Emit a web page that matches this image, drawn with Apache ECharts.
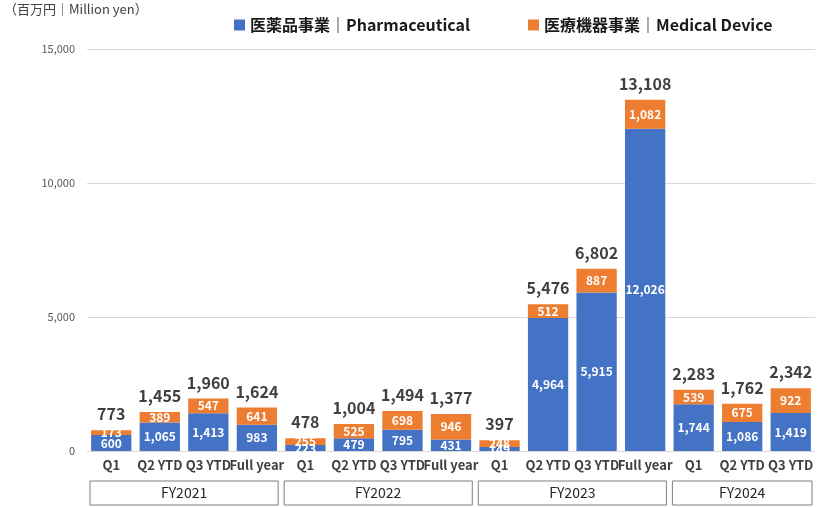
<!DOCTYPE html>
<html>
<head>
<meta charset="utf-8">
<script src="https://cdn.jsdelivr.net/npm/echarts@6/dist/echarts.min.js"></script>
<style>
  html, body { margin: 0; padding: 0; background: #fff; }
  #chart { width: 820px; height: 507px; }
</style>
</head>
<body>
<div id="chart"></div>
<script>
const categories = [
  'Q1', 'Q2 YTD', 'Q3 YTD', 'Full year',
  'Q1', 'Q2 YTD', 'Q3 YTD', 'Full year',
  'Q1', 'Q2 YTD', 'Q3 YTD', 'Full year',
  'Q1', 'Q2 YTD', 'Q3 YTD'
]
const pharma = [600, 1065, 1413, 983, 223, 479, 795, 431, 149, 4964, 5915, 12026, 1744, 1086, 1419]
const medical = [173, 389, 547, 641, 255, 525, 698, 946, 248, 512, 887, 1082, 539, 675, 922]
const totals = [773, 1455, 1960, 1624, 478, 1004, 1494, 1377, 397, 5476, 6802, 13108, 2283, 1762, 2342]
// 年度グループ: [名前, 開始index, 終了index]
const groups = [['FY2021', 0, 3], ['FY2022', 4, 7], ['FY2023', 8, 11], ['FY2024', 12, 14]]

const font = '"Noto Sans CJK JP", "Noto Sans", sans-serif'
const fmt = v => v.toLocaleString('en-US')

const chart = echarts.init(document.getElementById('chart'))
const option = {
  animation: false,
  textStyle: { fontFamily: font },
  legend: {
    data: ['医薬品事業｜Pharmaceutical', '医療機器事業｜Medical Device'],
    left: 229,
    top: 12,
    itemWidth: 11,
    itemHeight: 11,
    itemGap: 58,
    icon: 'rect',
    textStyle: { fontSize: 16, fontWeight: 'bold', color: '#1a1a1a', fontFamily: font }
  },
  grid: { left: 87, right: 5, top: 49, bottom: 56 },
  xAxis: {
    type: 'category',
    data: categories,
    axisLine: { lineStyle: { color: '#d9d9d9' } },
    axisTick: { show: false },
    axisLabel: {
      interval: 0,
      color: '#404040',
      fontSize: 13,
      fontWeight: 'bold',
      margin: 8,
      fontFamily: font
    }
  },
  yAxis: {
    type: 'value',
    min: 0,
    max: 15000,
    interval: 5000,
    axisLine: { show: false },
    axisTick: { show: false },
    splitLine: { lineStyle: { color: '#d9d9d9' } },
    axisLabel: { formatter: v => fmt(v), color: '#595959', fontSize: 11, margin: 12, fontFamily: font }
  },
  series: [
    {
      name: '医薬品事業｜Pharmaceutical',
      type: 'bar',
      stack: 'total',
      barCategoryGap: '17%',
      itemStyle: { color: '#4472C4' },
      label: {
        show: true,
        position: 'inside',
        color: '#fff',
        fontSize: 12,
        fontWeight: 'bold',
        formatter: p => fmt(p.value)
      },
      data: pharma
    },
    {
      name: '医療機器事業｜Medical Device',
      type: 'bar',
      stack: 'total',
      itemStyle: { color: '#ED7D31' },
      label: {
        show: true,
        position: 'inside',
        color: '#fff',
        fontSize: 12,
        fontWeight: 'bold',
        formatter: p => fmt(p.value)
      },
      data: medical
    },
    {
      name: 'total',
      type: 'bar',
      stack: 'total',
      itemStyle: { color: 'transparent' },
      label: {
        show: true,
        position: 'top',
        distance: 8,
        color: '#404040',
        fontSize: 16,
        fontWeight: 'bold',
        formatter: p => fmt(totals[p.dataIndex])
      },
      data: totals.map(() => 0)
    }
  ]
}
chart.setOption(option)

// 年度の枠とテキスト
const step = chart.convertToPixel({ xAxisIndex: 0 }, 1) - chart.convertToPixel({ xAxisIndex: 0 }, 0)
const boxes = []
groups.forEach(([name, s, e]) => {
  const x1 = chart.convertToPixel({ xAxisIndex: 0 }, s) - step / 2 + 3
  const x2 = chart.convertToPixel({ xAxisIndex: 0 }, e) + step / 2 - 3
  boxes.push({
    type: 'rect',
    shape: { x: x1, y: 481, width: x2 - x1, height: 24 },
    style: { fill: '#fff', stroke: '#7f7f7f', lineWidth: 1 }
  })
  boxes.push({
    type: 'text',
    x: (x1 + x2) / 2,
    y: 493,
    style: { text: name, fill: '#262626', fontSize: 14, fontFamily: font, align: 'center', verticalAlign: 'middle' }
  })
})
boxes.push({
  type: 'text',
  left: 4,
  top: 3,
  style: { text: '（百万円｜Million yen）', fill: '#404040', fontSize: 13, fontFamily: font }
})
chart.setOption({ graphic: boxes })
</script>
</body>
</html>
